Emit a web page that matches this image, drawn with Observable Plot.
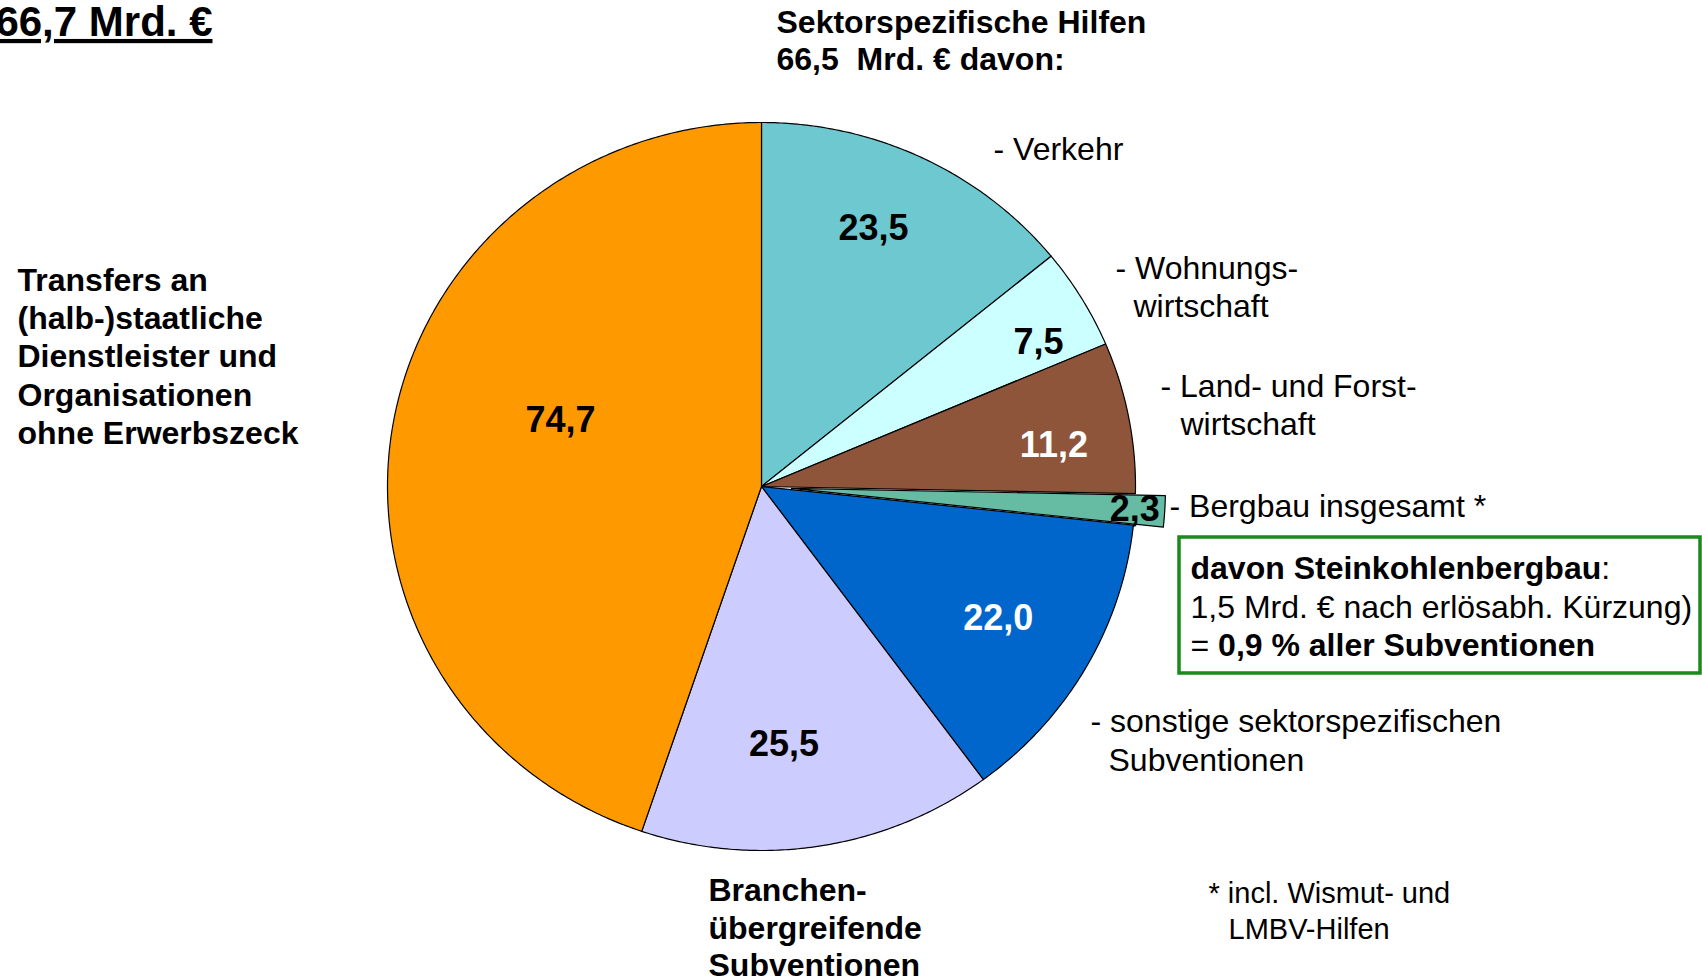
<!DOCTYPE html>
<html>
<head>
<meta charset="utf-8">
<script src="https://cdn.jsdelivr.net/npm/d3@7"></script>
<script src="https://cdn.jsdelivr.net/npm/@observablehq/plot@0.6"></script>
<style>
  body { margin: 0; background: #fff; }
  #chart svg { display: block; font-family: "Liberation Sans", Arial, sans-serif; }
  #chart text { white-space: pre; }
</style>
</head>
<body>
<div id="chart"></div>
<script>
// ---------- data ----------
const categories = [
  "Verkehr",
  "Wohnungswirtschaft",
  "Land- und Forstwirtschaft",
  "Bergbau insgesamt",
  "sonstige sektorspezifische Subventionen",
  "Branchenübergreifende Subventionen",
  "Transfers an (halb-)staatliche Dienstleister und Organisationen ohne Erwerbszweck"
];
const values = [23.5, 7.5, 11.2, 2.3, 22.0, 25.5, 74.7];
const valueLabels = ["23,5", "7,5", "11,2", "2,3", "22,0", "25,5", "74,7"];
const exploded = [false, false, false, true, false, false, false];

// ---------- styles / layout ----------
const colors = ["#6EC8D0", "#CCFFFF", "#8E553B", "#66BBA3", "#0066CC", "#CCCCFF", "#FF9900"];
const labelInk = ["black", "black", "white", "black", "white", "black", "black"];
const labelR = [0.77, 0.84, 0.79, 0.92, 0.73, 0.71, 0.567];
const labelShiftDeg = [-2.5, 3, 2.7, 0, 0, 4, 9.3];
const W = 1702, H = 980, cx = 761, cy = 486, rx = 374, ry = 364, explodePx = 30;

const FONT = '"Liberation Sans", Arial, sans-serif';
const ctx = document.createElement("canvas").getContext("2d");
function measure(text, weight, size) { ctx.font = `${weight} ${size}px ${FONT}`; return ctx.measureText(text).width; }

// ---------- pie geometry from data ----------
const arcs = d3.pie().sort(null).value(d => d)(values);
const piePoints = [];
const valueRows = [];
arcs.forEach((s, i) => {
  const mid = (s.startAngle + s.endAngle) / 2;
  const ox = exploded[i] ? explodePx * Math.sin(mid) : 0;
  const oy = exploded[i] ? -explodePx * Math.cos(mid) : 0;
  const n = Math.max(2, Math.ceil((s.endAngle - s.startAngle) / (Math.PI / 360)));
  const name = categories[i];
  piePoints.push({name, ex: exploded[i], x: cx + ox, y: cy + oy});
  for (let k = 0; k <= n; k++) {
    const a = s.startAngle + (s.endAngle - s.startAngle) * k / n;
    piePoints.push({name, ex: exploded[i], x: cx + ox + rx * Math.sin(a), y: cy + oy - ry * Math.cos(a)});
  }
  piePoints.push({name, ex: exploded[i], x: cx + ox, y: cy + oy});
  const la = mid + labelShiftDeg[i] * Math.PI / 180;
  valueRows.push({
    text: valueLabels[i], ink: labelInk[i],
    x: cx + ox + rx * labelR[i] * Math.sin(la),
    y: cy + oy - ry * labelR[i] * Math.cos(la)
  });
});

// ---------- annotations ----------
const boldText = [
  {x: 776, y: 22, t: "Sektorspezifische Hilfen"},
  {x: 776, y: 59, t: "66,5  Mrd. € davon:"},
  {x: 708, y: 890, t: "Branchen-"},
  {x: 708, y: 928, t: "übergreifende"},
  {x: 708, y: 965, t: "Subventionen"},
  {x: 17, y: 280, t: "Transfers an"},
  {x: 17, y: 318, t: "(halb-)staatliche"},
  {x: 17, y: 356, t: "Dienstleister und"},
  {x: 17, y: 395, t: "Organisationen"},
  {x: 17, y: 433, t: "ohne Erwerbszeck"}
];
const regularText = [
  {x: 993, y: 149, t: "- Verkehr"},
  {x: 1115, y: 268, t: "- Wohnungs-"},
  {x: 1133, y: 306, t: "wirtschaft"},
  {x: 1160, y: 386, t: "- Land- und Forst-"},
  {x: 1180, y: 424, t: "wirtschaft"},
  {x: 1169, y: 506, t: "- Bergbau insgesamt *"},
  {x: 1090, y: 721, t: "- sonstige sektorspezifischen"},
  {x: 1108, y: 760, t: "Subventionen"},
  {x: 1190, y: 607, t: "1,5 Mrd. € nach erlösabh. Kürzung)"}
];
const boxX = 1190;
const boxBold = [
  {x: boxX, y: 568, t: "davon Steinkohlenbergbau"},
  {x: boxX + measure("= ", "normal", 32), y: 645, t: "0,9 % aller Subventionen"}
];
const boxRegular = [
  {x: boxX + measure("davon Steinkohlenbergbau", "bold", 32), y: 568, t: ":"},
  {x: boxX, y: 645, t: "= "}
];
const footText = [
  {x: 1208, y: 893, t: "* incl. Wismut- und"},
  {x: 1228, y: 929, t: "LMBV-Hilfen"}
];
const titleText = [{x: 212, y: 22, t: "166,7 Mrd. €"}];
const box = [{x1: 1179, x2: 1700, y1: 537, y2: 673}];

const txt = (data, size, weight, extra = {}) => Plot.text(data, {
  x: "x", y: "y", text: "t", textAnchor: "start", lineAnchor: "middle",
  fontSize: size, fontWeight: weight, fill: "black", ...extra
});

const chart = Plot.plot({
  width: W, height: H, margin: 0,
  style: {fontFamily: FONT, background: "white"},
  x: {domain: [0, W], range: [0, W], axis: null},
  y: {domain: [0, H], range: [0, H], axis: null},
  color: {domain: categories, range: colors},
  marks: [
    Plot.line(piePoints.filter(d => !d.ex), {x: "x", y: "y", z: "name", fill: "name", stroke: "black", strokeWidth: 1.2, strokeLinejoin: "round"}),
    Plot.line(piePoints.filter(d => d.ex), {x: "x", y: "y", z: "name", fill: "name", stroke: "black", strokeWidth: 1.2, strokeLinejoin: "round"}),
    Plot.text(valueRows.filter(d => d.ink === "black"), {x: "x", y: "y", text: "text", fontSize: 36, fontWeight: "bold", fill: "black", lineAnchor: "middle"}),
    Plot.text(valueRows.filter(d => d.ink === "white"), {x: "x", y: "y", text: "text", fontSize: 36, fontWeight: "bold", fill: "white", lineAnchor: "middle"}),
    Plot.rect(box, {x1: "x1", x2: "x2", y1: "y1", y2: "y2", fill: "white", stroke: "#1A8A1A", strokeWidth: 3.5}),
    txt(boldText, 32, "bold"),
    txt(regularText, 32, "normal"),
    txt(boxBold, 32, "bold"),
    txt(boxRegular, 32, "normal"),
    txt(footText, 29, "normal"),
    txt(titleText, 42, "bold", {textAnchor: "end"})
  ]
});
chart.querySelectorAll("text").forEach(t => {
  if (t.textContent === "166,7 Mrd. €") {
    t.setAttribute("text-decoration", "underline");
    t.style.textDecoration = "underline";
    t.style.textDecorationThickness = "5px";
  }
});
document.getElementById("chart").append(chart);
</script>
</body>
</html>
